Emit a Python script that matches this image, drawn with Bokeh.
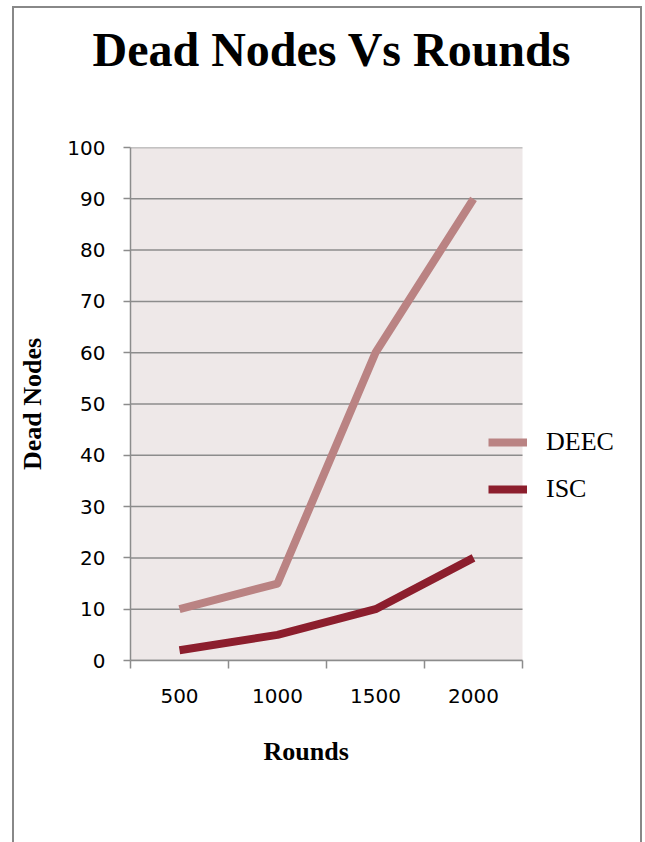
from bokeh.plotting import figure
from bokeh.models import Range1d, FixedTicker, Legend, LegendItem, InlineStyleSheet, Title
from bokeh.embed import file_html
from bokeh.resources import INLINE

# ---- data ----
rounds = [500, 1000, 1500, 2000]
round_labels = ["500", "1000", "1500", "2000"]
deec = [10, 15, 60, 90]
isc = [2, 5, 10, 20]
y_ticks = [0, 10, 20, 30, 40, 50, 60, 70, 80, 90, 100]
x_bounds = [250, 750, 1250, 1750, 2250]

# plot area spans x 250..2250 (392 px); frame extended to the right for the legend
x_lo, x_hi = 250, 2250
frame_w = 513
x_end = x_lo + (x_hi - x_lo) * frame_w / 392.0

p = figure(width=645, height=842, output_backend="svg", toolbar_location=None,
           x_range=Range1d(x_lo, x_end), y_range=Range1d(0, 100),
           min_border_left=130, min_border_right=2,
           min_border_top=147, min_border_bottom=182)

p.background_fill_color = "white"
p.border_fill_color = "white"
p.outline_line_color = None

# trailing blank line lifts the title towards the top of the box
p.title.text = "Dead Nodes Vs Rounds\n "
p.title.text_font = "Liberation Serif"
p.title.text_font_size = "48px"
p.title.text_font_style = "bold"
p.title.align = "left"
p.title.offset = -38
p.title.vertical_align = "top"
p.title.standoff = 34
p.title.text_color = "black"

grey = "#8C8C8C"

# plot-area background and horizontal gridlines (only over the data region)
p.quad(left=[x_lo], right=[x_hi], bottom=[0], top=[100],
       fill_color="#EEE8E8", line_color=None)
p.segment(x0=[x_lo] * len(y_ticks), x1=[x_hi] * len(y_ticks),
          y0=y_ticks, y1=y_ticks, line_color=grey, line_width=1.5)
p.xgrid.visible = False
p.ygrid.visible = False

# x axis
xa = p.xaxis[0]
xa.bounds = (x_lo, x_hi)
xa.ticker = FixedTicker(ticks=rounds, minor_ticks=x_bounds)
xa.major_label_overrides = {r: l for r, l in zip(rounds, round_labels)}
xa.major_tick_out = 0
xa.major_tick_in = 0
xa.minor_tick_out = 8
xa.minor_tick_in = 0
xa.minor_tick_line_color = grey
xa.minor_tick_line_width = 1.5
xa.axis_line_color = grey
xa.axis_line_width = 1.5
xa.major_label_text_font = "DejaVu Sans"
xa.major_label_text_font_size = "20px"
xa.major_label_text_color = "black"
xa.major_label_standoff = 20

# x-axis title, centred under the data region (not the widened frame)
x_title = Title(text="Rounds", text_font="Liberation Serif", text_font_size="26px",
                text_font_style="bold", text_color="black",
                align="left", offset=133, vertical_align="top", standoff=62)
p.add_layout(x_title, "below")

# y axis
ya = p.yaxis[0]
ya.ticker = FixedTicker(ticks=y_ticks, minor_ticks=[])
ya.major_tick_out = 7
ya.major_tick_in = 0
ya.major_tick_line_color = grey
ya.major_tick_line_width = 1.5
ya.minor_tick_line_color = None
ya.axis_line_color = grey
ya.axis_line_width = 1.5
ya.major_label_text_font = "DejaVu Sans"
ya.major_label_text_font_size = "20px"
ya.major_label_text_color = "black"
ya.major_label_standoff = 18
ya.axis_label = "Dead Nodes"
ya.axis_label_text_font = "Liberation Serif"
ya.axis_label_text_font_size = "26px"
ya.axis_label_text_font_style = "bold"
ya.axis_label_text_color = "black"
ya.axis_label_standoff = 17

r1 = p.line(rounds, deec, line_width=8, line_color="#BA8383", line_join="round")
r2 = p.line(rounds, isc, line_width=8, line_color="#8C1E2D", line_join="round")

legend = Legend(items=[LegendItem(label="DEEC", renderers=[r1]),
                       LegendItem(label="ISC", renderers=[r2])],
                location=(358, 156), orientation="vertical",
                padding=0, margin=0, spacing=17,
                glyph_width=39, glyph_height=26, label_height=26,
                label_standoff=19,
                label_text_font="Liberation Serif", label_text_font_size="26px",
                label_text_color="black",
                border_line_color=None, background_fill_alpha=0)
p.add_layout(legend)

# outer frame of the chart box (open at the bottom, as in the reference)
p.stylesheets = [InlineStyleSheet(css=(
    ":host::after { content: ''; position: absolute; left: 12px; top: 6px; "
    "width: 630px; height: 836px; border: 2px solid #888888; "
    "border-bottom: none; box-sizing: border-box; pointer-events: none; z-index: 10; }"
))]

open("out.html", "w").write(file_html(p, INLINE))
